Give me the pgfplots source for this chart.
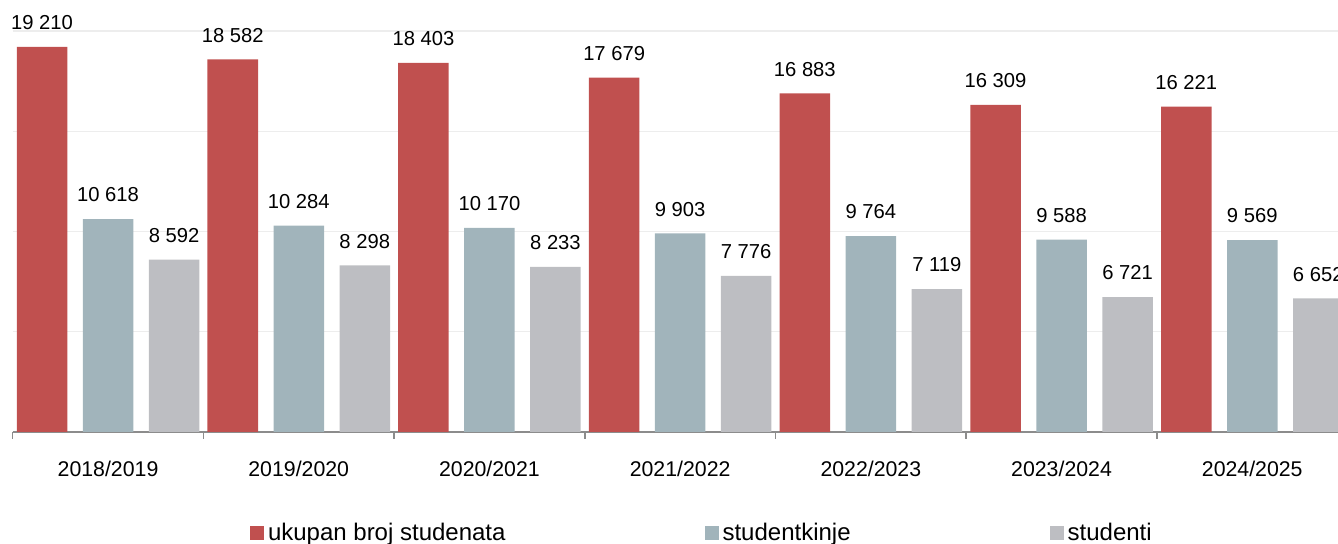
\documentclass[border=0pt]{standalone}
\usepackage{pgfplots}
\pgfplotsset{compat=1.18}
\usepackage{fontspec}
\setmainfont{Liberation Sans}
\definecolor{ukupno}{HTML}{C0504F}
\definecolor{zene}{HTML}{A1B4BB}
\definecolor{muski}{HTML}{BDBEC2}
\definecolor{osi}{HTML}{8C8C8C}
\definecolor{mreza}{HTML}{EDEDED}

\begin{document}
\begin{tikzpicture}
\begin{axis}[
    scale only axis,
    width=667.45pt, height=200.4pt,
    xmin=-0.5, xmax=6.5, ymin=0, ymax=20000,
    clip=false,
    ybar=7.75pt, bar width=25.25pt,
    axis x line*=bottom, axis y line*=left,
    y axis line style={draw=none},
    x axis line style={-, osi, line width=0.75pt},
    xtick={0,...,6},
    xticklabels={2018/2019, 2019/2020, 2020/2021, 2021/2022, 2022/2023, 2023/2024, 2024/2025},
    major x tick style={draw=none},
    minor xtick={-0.5,0.5,...,6.5},
    minor x tick style={osi, line width=0.75pt},
    minor tick length=3.5pt,
    tick align=outside,
    ytick={5000,10000,15000,20000},
    yticklabels={},
    scaled y ticks=false,
    major y tick style={draw=none},
    ymajorgrids,
    grid style={mreza, line width=0.6pt},
    x tick label style={font=\fontsize{10.65}{12}\selectfont, anchor=base, yshift=-18.1pt},
    nodes near coords,
    every node near coord/.append style={font=\fontsize{10.1}{12}\selectfont, anchor=base, inner sep=0pt, yshift=8.65pt, text=black},
    /pgf/number format/.cd, fixed, precision=0, 1000 sep={\ }, assume math mode=true, /pgfplots/.cd,
    legend columns=3,
    legend image code/.code={\fill[#1] (0pt,0.6pt) rectangle (7pt,7.4pt);},
    legend style={draw=none, fill=none, inner sep=0pt, outer sep=0pt,
        at={(0.1778,-0.2899)}, anchor=south west,
        font=\fontsize{12}{14}\selectfont,
        cells={anchor=base west, inner sep=0pt},
        /tikz/every odd column/.append style={column sep=0pt},
        /tikz/every even column/.append style={column sep=97.5pt}},
]
\coordinate (o) at (axis cs:-0.5,0);

\addplot[fill=ukupno, draw=none] coordinates {
    (0,19210) (1,18582) (2,18403) (3,17679) (4,16883) (5,16309) (6,16221)};
\addplot[fill=zene, draw=none] coordinates {
    (0,10618) (1,10284) (2,10170) (3,9903) (4,9764) (5,9588) (6,9569)};
\addplot[fill=muski, draw=none] coordinates {
    (0,8592) (1,8298) (2,8233) (3,7776) (4,7119) (5,6721) (6,6652)};

\legend{ukupan broj studenata, studentkinje, studenti}
\end{axis}
\pgfresetboundingbox
\path[use as bounding box] ([shift={(-6.35pt,-56.1pt)}]o) rectangle ([shift={(662.65pt,215.9pt)}]o);
\end{tikzpicture}
\end{document}
